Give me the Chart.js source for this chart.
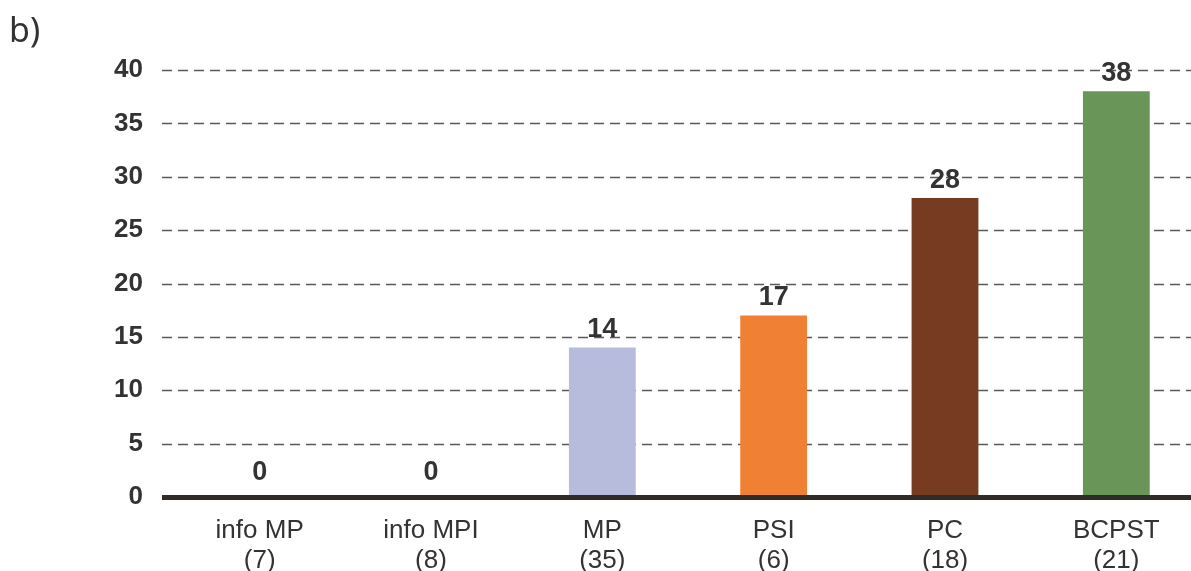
<!DOCTYPE html>
<html>
<head>
<meta charset="utf-8">
<script src="https://cdn.jsdelivr.net/npm/chart.js@4.4.0/dist/chart.umd.min.js"></script>
<style>
html,body{margin:0;padding:0;background:#fff;overflow:hidden}
#wrap{position:relative;width:1202px;height:571px}
#lbl{position:absolute;left:9px;top:6px;font:34px 'Noto Sans',sans-serif;color:#333}
</style>
</head>
<body>
<div id="wrap">
<div id="lbl">b)</div>
<canvas id="c" width="1202" height="571"></canvas>
</div>
<script>
// ─── DATA ────────────────────────────────────────────────────
const categories=[['info MP','(7)'],['info MPI','(8)'],['MP','(35)'],['PSI','(6)'],['PC','(18)'],['BCPST','(21)']];
const values=[0,0,14,17,28,38];
const barColors=['#b8bcdc','#b8bcdc','#b8bcdc','#f08033','#773b22','#6a9558'];
const yTicks=[0,5,10,15,20,25,30,35,40];

const INK='#333';
const FONT='"Liberation Sans", Arial, sans-serif';
const GRID_X0=162;

// dashed grid behind bars, thick zero line + value labels in front
Chart.register({id:'gridDash',
  beforeDatasetsDraw(chart){
    const {ctx,scales:{y}}=chart;const w=chart.width;
    ctx.save();ctx.strokeStyle='#5a5a5a';ctx.lineWidth=1.5;ctx.setLineDash([10,6]);
    yTicks.forEach(v=>{if(v===0)return;const py=Math.round(y.getPixelForValue(v))+0.5;
      ctx.beginPath();ctx.moveTo(GRID_X0,py);ctx.lineTo(w,py);ctx.stroke()});
    ctx.restore()},
  afterDatasetsDraw(chart){
    const {ctx,scales:{y}}=chart;const w=chart.width;
    const py=y.getPixelForValue(0);
    ctx.save();ctx.fillStyle='#2e2b29';ctx.fillRect(GRID_X0,py-2,w-GRID_X0,5);
    const meta=chart.getDatasetMeta(0);
    ctx.font='bold 27px '+FONT;ctx.fillStyle=INK;
    ctx.textAlign='center';ctx.textBaseline='middle';
    meta.data.forEach((b,i)=>{ctx.fillText(String(values[i]),b.x,b.y-(values[i]===0?24:18))});
    ctx.restore()}
});

new Chart(document.getElementById('c'),{
  type:'bar',
  data:{labels:categories,datasets:[{data:values,backgroundColor:barColors,borderWidth:0,
    categoryPercentage:1,barPercentage:0.39}]},
  options:{responsive:false,animation:false,
    layout:{padding:{left:0,right:0,top:70,bottom:0}},
    plugins:{legend:{display:false},tooltip:{enabled:false}},
    scales:{
      x:{grid:{display:false,drawTicks:false},border:{display:false},
        ticks:{color:INK,padding:19,font:{family:FONT,size:26,lineHeight:1.15},maxRotation:0,autoSkip:false},
        afterFit(s){s.height=74}},
      y:{min:0,max:40,grid:{display:false,drawTicks:false},border:{display:false},
        afterBuildTicks(s){s.ticks=yTicks.map(v=>({value:v}))},
        ticks:{color:INK,padding:31,font:{family:FONT,size:26,weight:'bold'}},
        afterFit(s){s.width=174}}
    }
  }
});
</script>
</body>
</html>
